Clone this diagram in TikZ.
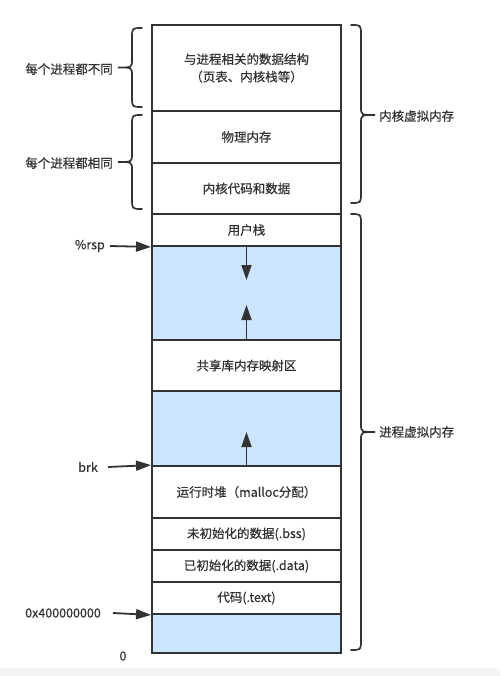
\documentclass[tikz,border=0pt]{standalone}
\usepackage{fontspec}
\setmainfont{Noto Sans CJK SC}[FakeBold=0.6]
\usetikzlibrary{arrows.meta}
\definecolor{lnc}{HTML}{333333}
\definecolor{txc}{HTML}{333333}
\definecolor{blu}{HTML}{CCE5FF}
\tikzset{
  cell/.style={draw=lnc, line width=1.9pt, minimum width=189pt, inner sep=0pt, text=txc,
    font=\fontsize{12.5}{17.5}\selectfont, align=center},
  freecell/.style={cell, fill=blu},
  lbl/.style={inner sep=0pt, text=txc, font=\fontsize{12.5}{15}\selectfont},
  arr/.style={draw=lnc, line width=1.8pt, -{Triangle[length=15pt,width=10pt]}},
  brc/.style={draw=lnc, line width=1.7pt, line cap=round}
}
\newcommand{\mybraceL}[4]{% xv, y1, y2, ym : tip to the left
  \draw[brc] ({#1+10},#2) .. controls (#1,#2) .. (#1,{#2+10}) -- (#1,{#4-8})
    .. controls (#1,#4) .. ({#1-14},#4) .. controls (#1,#4) .. (#1,{#4+8})
    -- (#1,{#3-10}) .. controls (#1,#3) .. ({#1+10},#3);}
\newcommand{\mybraceR}[4]{% xv, y1, y2, ym : tip to the right
  \draw[brc] ({#1-10},#2) .. controls (#1,#2) .. (#1,{#2+10}) -- (#1,{#4-8})
    .. controls (#1,#4) .. ({#1+14},#4) .. controls (#1,#4) .. (#1,{#4+8})
    -- (#1,{#3-10}) .. controls (#1,#3) .. ({#1-10},#3);}
\begin{document}
\begin{tikzpicture}[x=1pt, y=-1pt]
\useasboundingbox (0,0) rectangle (500,676);
\fill[black!4] (0,668) rectangle (500,676);
% cells
\node[cell, minimum height=86pt] (k1) at (246.5,68) {与进程相关的数据结构\\（页表、内核栈等）};
\node[cell, minimum height=52pt] (k2) at (246.5,137) {物理内存};
\node[cell, minimum height=51pt] (k3) at (246.5,188.5) {内核代码和数据};
\node[cell, minimum height=32pt] (stack) at (246.5,230) {用户栈};
\node[freecell, minimum height=94pt] (free1) at (246.5,293) {};
\node[cell, minimum height=51pt] (shlib) at (246.5,365.5) {共享库内存映射区};
\node[freecell, minimum height=75pt] (free2) at (246.5,428.5) {};
\node[cell, minimum height=52pt] (heap) at (246.5,492) {运行时堆（malloc分配）};
\node[cell, minimum height=32pt] (bss) at (246.5,534) {未初始化的数据(.bss)};
\node[cell, minimum height=32pt] (data) at (246.5,566) {已初始化的数据(.data)};
\node[cell, minimum height=32pt] (text) at (246.5,598) {代码(.text)};
\node[freecell, minimum height=39pt] (low) at (246.5,633.5) {};
% inner arrows
\coordinate (d1) at (246.5,280);
\coordinate (u1) at (246.5,305);
\coordinate (u2) at (246.5,432);
\draw[arr] (stack.south) -- (d1);
\draw[arr] (shlib.north) -- (u1);
\draw[arr] (heap.north) -- (u2);
% left pointers
\node[lbl, anchor=east] (rsp) at (105,246) {\%rsp};
\node[lbl, anchor=east] (brk) at (98,467) {brk};
\node[lbl, anchor=east] (addr) at (101,613) {0x400000000};
\node[lbl] (zero) at (123,656) {0};
\draw[arr] ([xshift=5pt]rsp.east) -- (stack.south west);
\draw[arr] ([xshift=10pt]brk.east) -- (heap.north west);
\draw[arr] ([xshift=12pt]addr.east) -- (text.south west);
% left braces
\mybraceL{132}{28}{107}{67.5}
\mybraceL{132}{115}{209}{162}
\node[lbl, anchor=east] (diff) at (113,69) {每个进程都不同};
\node[lbl, anchor=east] (same) at (113,163) {每个进程都相同};
% right braces
\mybraceR{361}{25}{203}{115}
\mybraceR{361}{214}{650}{432}
\node[lbl, anchor=west] (kvm) at (379,116) {内核虚拟内存};
\node[lbl, anchor=west] (pvm) at (379,432) {进程虚拟内存};
\end{tikzpicture}
\end{document}
